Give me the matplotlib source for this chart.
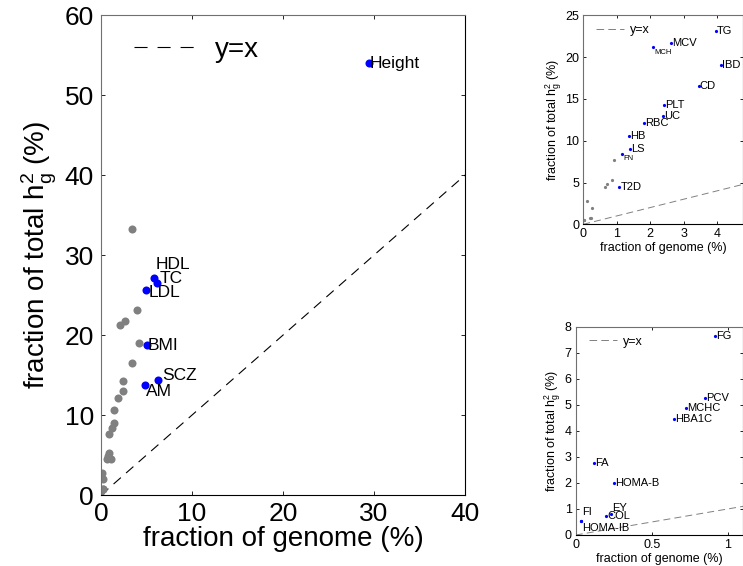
import matplotlib
matplotlib.use("Agg")
import matplotlib.pyplot as plt

plt.rcParams["font.family"] = ["Liberation Sans", "DejaVu Sans"]
plt.rcParams["mathtext.default"] = "regular"
plt.rcParams["lines.scale_dashes"] = False

# traits labelled in the big panel
main_traits = ["Height", "HDL", "TC", "LDL", "BMI", "SCZ", "AM"]
main_x = [29.4, 5.84, 6.1, 4.93, 5.0, 6.28, 4.82]
main_y = [54.0, 27.1, 26.5, 25.6, 18.7, 14.4, 13.75]

# traits labelled in the upper right panel
mid_traits = ["TG", "MCV", "MCH", "IBD", "CD", "PLT", "UC", "RBC", "HB", "LS", "FN", "T2D"]
mid_x = [3.97, 2.62, 2.08, 4.13, 3.45, 2.43, 2.39, 1.83, 1.37, 1.41, 1.15, 1.08]
mid_y = [23.1, 21.7, 21.2, 19.05, 16.5, 14.3, 13.0, 12.1, 10.6, 9.04, 8.37, 4.5]

# traits labelled in the lower right panel
small_traits = ["FG", "PCV", "MCHC", "HBA1C", "FA", "HOMA-B", "EY", "COL", "FI", "HOMA-IB"]
small_x = [0.917, 0.851, 0.724, 0.647, 0.121, 0.25, 0.23, 0.197, 0.033, 0.033]
small_y = [7.67, 5.25, 4.87, 4.46, 2.75, 2.0, 0.8, 0.74, 0.55, 0.52]

# unlabelled trait
other_x = [3.36]
other_y = [33.3]

BLUE = "#0000ff"
GRAY = "#808080"

# label offsets in points (dx, dy); default is just right of the dot
offsets = {
    "HDL": (1, 10), "TC": (2, 3.5), "LDL": (2, -1.5), "SCZ": (3, 3), "AM": (1, -5),
    "MCH": (1, -4), "FN": (1, -3),
    "FI": (1, 6), "HOMA-IB": (1, -4.5), "EY": (1, 4.5), "COL": (1, -0.5),
}
small_font = {"MCH": 5.5, "FN": 5.5}


def style_axes(ax, size, ticklen, pad):
    ax.tick_params(direction="in", top=True, right=True, length=ticklen,
                   labelsize=size, width=0.6, pad=pad)
    for s in ["top", "left"]:
        ax.spines[s].set_color("#707070")
    for s in ["bottom", "right"]:
        ax.spines[s].set_color("black")
    for s in ax.spines.values():
        s.set_linewidth(0.8)


def label_points(ax, names, xs, ys, size, default_dx):
    for n, x, y in zip(names, xs, ys):
        dx, dy = offsets.get(n, (default_dx, 0))
        ax.annotate(n, (x, y), xytext=(dx, dy), textcoords="offset points",
                    ha="left", va="center", fontsize=small_font.get(n, size))


fig = plt.figure(figsize=(7.43, 5.66), dpi=100)

# ---- big panel
ax = fig.add_axes([0.136, 0.1254, 0.490, 0.848])
ax.plot([0, 40], [0, 40], color="black", lw=0.8, dashes=(7, 5), label="y=x")
ax.plot(mid_x + small_x + other_x, mid_y + small_y + other_y, "o",
        color=GRAY, ms=5.8, mec="none")
ax.plot(main_x, main_y, "o", color=BLUE, ms=5.8, mec="none")
label_points(ax, main_traits, main_x, main_y, 12.5, 1)
ax.set_xlim(0, 40)
ax.set_ylim(0, 60)
ax.set_xticks([0, 10, 20, 30, 40])
ax.set_yticks([0, 10, 20, 30, 40, 50, 60])
ax.set_xlabel("fraction of genome (%)", fontsize=20, labelpad=0)
ax.set_ylabel("fraction of total h$_g^2$ (%)", fontsize=20, labelpad=4)
style_axes(ax, 19, 3, 5)
leg = ax.legend(loc="center left", bbox_to_anchor=(0.06, 0.927), frameon=False,
                fontsize=20, handlelength=2.3, handletextpad=0.6, borderaxespad=0)
leg.get_lines()[0].set_dashes((9.4, 7.2))

# ---- upper right panel
ax2 = fig.add_axes([0.785, 0.6037, 0.215, 0.369])
ax2.plot([0, 5], [0, 5], color=GRAY, lw=0.7, dashes=(5, 3), label="y=x")
ax2.plot(small_x, small_y, "o", color=GRAY, ms=2.3, mec="none")
ax2.plot(mid_x, mid_y, "o", color=BLUE, ms=2.3, mec="none")
label_points(ax2, mid_traits, mid_x, mid_y, 8, 0.8)
ax2.set_xlim(0, 4.78)
ax2.set_ylim(0, 25)
ax2.set_xticks([0, 1, 2, 3, 4])
ax2.set_yticks([0, 5, 10, 15, 20, 25])
ax2.set_xlabel("fraction of genome (%)", fontsize=9, labelpad=1)
ax2.set_ylabel("fraction of total h$_g^2$ (%)", fontsize=9, labelpad=1)
style_axes(ax2, 9, 2, 3)
leg2 = ax2.legend(loc="center left", bbox_to_anchor=(0.05, 0.93), frameon=False,
                  fontsize=9, handlelength=2.2, handletextpad=0.5, borderaxespad=0)
leg2.get_lines()[0].set_dashes((5.5, 3))

# ---- lower right panel
ax3 = fig.add_axes([0.775, 0.0548, 0.2248, 0.3675])
ax3.plot([0, 1.2], [0, 1.2], color=GRAY, lw=0.7, dashes=(5, 3), label="y=x")
ax3.plot(small_x, small_y, "o", color=BLUE, ms=2.3, mec="none")
label_points(ax3, small_traits, small_x, small_y, 8, 0.8)
ax3.set_xlim(0, 1.1)
ax3.set_ylim(0, 8)
ax3.set_xticks([0, 0.5, 1])
ax3.set_xticklabels(["0", "0.5", "1"])
ax3.set_yticks(range(0, 9))
ax3.set_xlabel("fraction of genome (%)", fontsize=9, labelpad=1)
ax3.set_ylabel("fraction of total h$_g^2$ (%)", fontsize=9, labelpad=1)
style_axes(ax3, 9, 2, 3)
leg3 = ax3.legend(loc="center left", bbox_to_anchor=(0.05, 0.93), frameon=False,
                  fontsize=9, handlelength=2.2, handletextpad=0.5, borderaxespad=0)
leg3.get_lines()[0].set_dashes((5.5, 3))

fig.savefig("out.png", dpi=100)
